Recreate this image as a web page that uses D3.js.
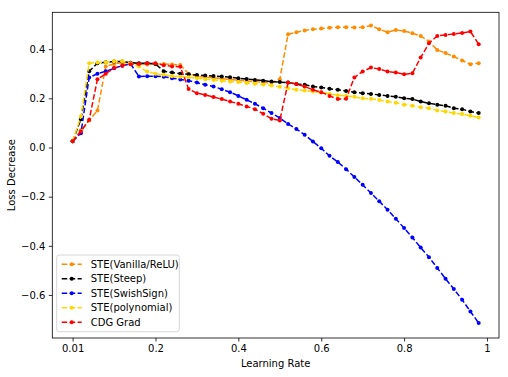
<!DOCTYPE html>
<html>
<head>
<meta charset="utf-8">
<script src="https://cdn.jsdelivr.net/npm/d3@7"></script>
<style>
    body { margin: 0; background: #fff; }
    text { font-family: "DejaVu Sans", sans-serif; }
</style>
</head>
<body>
<script>
// learning-rate step index (0 .. 49), first step is lr 0.01
const steps = d3.range(50);

// x tick labels, placed on step 0, 10, 20, ...
const xTickSteps = [0, 10, 20, 30, 40, 50];
const xTickLabels = ['0.01', '0.2', '0.4', '0.6', '0.8', '1'];

// y ticks
const yTicks = [-0.6, -0.4, -0.2, 0, 0.2, 0.4];

// series names
const names = ['STE(Vanilla/ReLU)', 'STE(Steep)', 'STE(SwishSign)', 'STE(polynomial)', 'CDG Grad'];

// series values
const vanilla = [
    0.025, 0.07, 0.11, 0.15, 0.33, 0.34, 0.345, 0.345, 0.34, 0.338,
    0.34, 0.34, 0.338, 0.336, 0.30, 0.29, 0.287, 0.283, 0.28, 0.277,
    0.274, 0.27, 0.268, 0.265, 0.263, 0.278, 0.461, 0.469, 0.476, 0.481,
    0.484, 0.487, 0.489, 0.489, 0.488, 0.489, 0.496, 0.481, 0.469, 0.478,
    0.474, 0.465, 0.454, 0.431, 0.397, 0.384, 0.37, 0.354, 0.339, 0.343
];
const steep = [
    0.025, 0.115, 0.31, 0.343, 0.347, 0.35, 0.35, 0.345, 0.343, 0.343,
    0.34, 0.31, 0.305, 0.30, 0.298, 0.295, 0.293, 0.291, 0.289, 0.286,
    0.282, 0.279, 0.275, 0.272, 0.268, 0.266, 0.264, 0.258, 0.255, 0.248,
    0.244, 0.239, 0.235, 0.23, 0.225, 0.221, 0.218, 0.214, 0.21, 0.206,
    0.2, 0.197, 0.187, 0.18, 0.174, 0.17, 0.16, 0.156, 0.146, 0.14
];
const swish = [
    0.025, 0.058, 0.285, 0.30, 0.31, 0.322, 0.333, 0.34, 0.289, 0.29,
    0.29, 0.288, 0.282, 0.277, 0.272, 0.264, 0.255, 0.248, 0.237, 0.225,
    0.21, 0.194, 0.178, 0.16, 0.14, 0.12, 0.096, 0.075, 0.052, 0.024,
    -0.003, -0.034, -0.059, -0.088, -0.12, -0.152, -0.185, -0.219, -0.253, -0.29,
    -0.328, -0.366, -0.407, -0.446, -0.49, -0.534, -0.576, -0.619, -0.667, -0.714
];
const polynomial = [
    0.025, 0.126, 0.343, 0.346, 0.347, 0.351, 0.351, 0.343, 0.329, 0.309,
    0.30, 0.296, 0.29, 0.288, 0.286, 0.282, 0.278, 0.275, 0.272, 0.268,
    0.266, 0.262, 0.259, 0.256, 0.252, 0.247, 0.241, 0.235, 0.232, 0.228,
    0.224, 0.218, 0.213, 0.21, 0.206, 0.2, 0.198, 0.193, 0.187, 0.182,
    0.174, 0.17, 0.164, 0.16, 0.15, 0.146, 0.14, 0.136, 0.129, 0.122
];
const cdg = [
    0.025, 0.065, 0.113, 0.278, 0.30, 0.323, 0.333, 0.339, 0.34, 0.343,
    0.343, 0.335, 0.33, 0.328, 0.238, 0.221, 0.214, 0.205, 0.197, 0.187,
    0.178, 0.167, 0.156, 0.137, 0.117, 0.11, 0.264, 0.258, 0.248, 0.235,
    0.225, 0.21, 0.197, 0.198, 0.285, 0.309, 0.325, 0.319, 0.309, 0.305,
    0.298, 0.302, 0.366, 0.424, 0.454, 0.458, 0.462, 0.466, 0.472, 0.42
];

const colors = ['#ff8c00', '#000000', '#0000ff', '#ffd700', '#ff0000'];

const dataset = [vanilla, steep, swish, polynomial, cdg].map((values, i) => ({
    name: names[i],
    color: colors[i],
    points: steps.map((s, j) => [s, values[j]])
}));

// svg size
const width = 508;
const height = 377;

// plot area
const plot = {left: 52.3, right: 499, top: 12.3, bottom: 338};

const svg = d3.select('body')
    .append('svg')
    .attr('width', width)
    .attr('height', height);

// scales (matplotlib-like 5% margins)
const xScale = d3.scaleLinear()
    .domain([-2.45, 51.45])
    .range([plot.left, plot.right]);

const yScale = d3.scaleLinear()
    .domain([-0.775, 0.55])
    .range([plot.bottom, plot.top]);

const line = d3.line()
    .x(d => xScale(d[0]))
    .y(d => yScale(d[1]));

// lines + markers
dataset.forEach(s => {
    svg.append('path')
        .attr('d', line(s.points))
        .attr('fill', 'none')
        .attr('stroke', s.color)
        .attr('stroke-width', 1.5)
        .attr('stroke-dasharray', '5.55,2.4');

    svg.append('g')
        .selectAll('circle')
        .data(s.points)
        .enter()
        .append('circle')
        .attr('cx', d => xScale(d[0]))
        .attr('cy', d => yScale(d[1]))
        .attr('r', 2)
        .attr('fill', s.color);
});

// frame
svg.append('rect')
    .attr('x', plot.left)
    .attr('y', plot.top)
    .attr('width', plot.right - plot.left)
    .attr('height', plot.bottom - plot.top)
    .attr('fill', 'none')
    .attr('stroke', '#000')
    .attr('stroke-width', 0.8);

// x axis
const xAxis = d3.axisBottom(xScale)
    .tickValues(xTickSteps)
    .tickFormat((d, i) => xTickLabels[i])
    .tickSizeInner(3.5)
    .tickSizeOuter(0)
    .tickPadding(3.5);

const gx = svg.append('g')
    .attr('transform', 'translate(0,' + plot.bottom + ')')
    .call(xAxis);

// y axis
const yAxis = d3.axisLeft(yScale)
    .tickValues(yTicks)
    .tickFormat(d => d3.format('.1f')(d).replace('-', '\u2212'))
    .tickSizeInner(3.5)
    .tickSizeOuter(0)
    .tickPadding(3.5);

const gy = svg.append('g')
    .attr('transform', 'translate(' + plot.left + ',0)')
    .call(yAxis);

[gx, gy].forEach(g => {
    g.select('.domain').remove();
    g.selectAll('line').attr('stroke', '#000').attr('stroke-width', 0.8);
    g.selectAll('text')
        .attr('fill', '#000')
        .style('font-size', '10px')
        .style('font-family', '"DejaVu Sans", sans-serif');
});

// axis titles
svg.append('text')
    .attr('x', (plot.left + plot.right) / 2)
    .attr('y', 367)
    .attr('text-anchor', 'middle')
    .style('font-size', '10px')
    .text('Learning Rate');

svg.append('text')
    .attr('transform', 'translate(15,' + (plot.top + plot.bottom) / 2 + ') rotate(-90)')
    .attr('text-anchor', 'middle')
    .style('font-size', '10px')
    .text('Loss Decrease');

// legend
const legend = svg.append('g')
    .attr('transform', 'translate(56.7,255)');

legend.append('rect')
    .attr('width', 122.6)
    .attr('height', 76.7)
    .attr('rx', 2.5)
    .attr('fill', '#fff')
    .attr('fill-opacity', 0.8)
    .attr('stroke', '#cccccc')
    .attr('stroke-width', 0.8);

const rows = legend.selectAll('g.row')
    .data(dataset)
    .enter()
    .append('g')
    .attr('class', 'row')
    .attr('transform', (d, i) => 'translate(0,' + (9.3 + i * 14.5) + ')');

rows.append('line')
    .attr('x1', 5)
    .attr('x2', 25)
    .attr('stroke', d => d.color)
    .attr('stroke-width', 1.5)
    .attr('stroke-dasharray', '5.55,2.4');

rows.append('circle')
    .attr('cx', 15)
    .attr('r', 2)
    .attr('fill', d => d.color);

rows.append('text')
    .attr('x', 34)
    .attr('dy', '0.35em')
    .style('font-size', '10px')
    .text(d => d.name);
</script>
</body>
</html>
